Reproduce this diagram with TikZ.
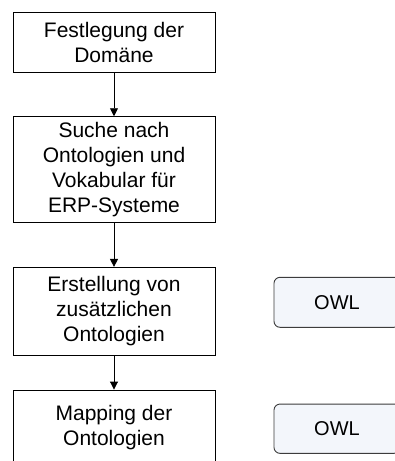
\documentclass[tikz,border=0pt]{standalone}
\usepackage{fontspec}
\setmainfont{Liberation Sans}
\usetikzlibrary{arrows.meta}
\definecolor{owlfill}{RGB}{243,246,251}
\definecolor{owlline}{RGB}{60,60,60}
\begin{document}
\begin{tikzpicture}[x=1pt,y=-1pt,
  stepbox/.style={draw=black, line width=0.9pt, fill=white, minimum width=202pt,
    align=center, font=\fontsize{21}{25}\selectfont, inner sep=0pt},
  owlbox/.style={draw=owlline, line width=0.9pt, fill=owlfill, rounded corners=6pt,
    minimum width=126pt, minimum height=50pt, inner sep=0pt,
    font=\fontsize{20}{24}\selectfont},
  flow/.style={-{Triangle[length=8pt,width=8pt]}, line width=0.9pt}]
\useasboundingbox (0,0) rectangle (395,461);
\clip (0,0) rectangle (395,461);
\node[stepbox, minimum height=60pt] (s1) at (114,42.7) {Festlegung der\\Domäne};
\node[stepbox, minimum height=106pt] (s2) at (114,169.7) {Suche nach\\Ontologien und\\Vokabular für\\ERP-Systeme};
\node[stepbox, minimum height=87.7pt] (s3) at (114,311.2) {Erstellung von\\zusätzlichen\\Ontologien};
\node[stepbox, minimum height=75pt] (s4) at (114,427.5) {Mapping der\\Ontologien};
\node[owlbox] (o1) at (337,302.3) {OWL};
\node[owlbox, minimum height=49.3pt] (o2) at (337,428.7) {OWL};
\draw[flow] (s1) -- (s2);
\draw[flow] (s2) -- (s3);
\draw[flow] (s3) -- (s4);
\end{tikzpicture}
\end{document}
